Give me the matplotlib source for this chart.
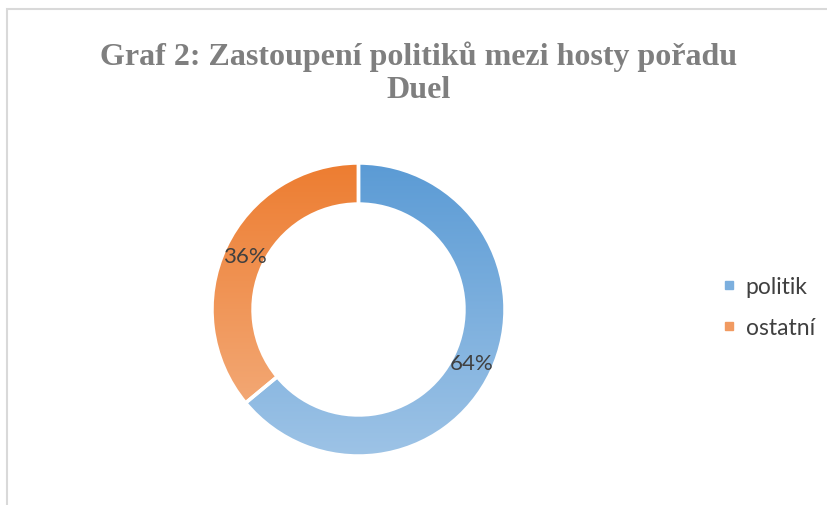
import numpy as np
import matplotlib
matplotlib.use("Agg")
import matplotlib.pyplot as plt
from matplotlib.lines import Line2D
from matplotlib.colors import LinearSegmentedColormap
from matplotlib.patches import Rectangle

title = "Graf 2: Zastoupení politiků mezi hosty pořadu\nDuel"
categories = ["politik", "ostatní"]
values = [64, 36]
top_colors = ["#5B9BD5", "#ED7D31"]
bottom_colors = ["#9DC3E6", "#F4B183"]

fig = plt.figure(figsize=(8.28, 5.06), dpi=100)
fig.patches.append(Rectangle((7/828, -0.01), 1.0, (506-10)/506 + 0.01, transform=fig.transFigure,
                             fill=False, edgecolor="#D9D9D9", linewidth=1.5))

fig.text(419/828, 1 - 73/506, title, ha="center", va="center", fontsize=23,
         family="Liberation Serif", fontweight="bold", color="#7F7F7F", linespacing=1.16)

ax = fig.add_axes([212/828, 49/506, 293/828, 293/506])
wedges, texts, autotexts = ax.pie(values, startangle=90, counterclock=False, radius=1.0,
                                  autopct="%d%%", pctdistance=0.855,
                                  wedgeprops=dict(width=0.28, edgecolor="white", linewidth=2.5),
                                  textprops=dict(fontsize=16, color="#404040", family="Lato"))
grad = np.linspace(0, 1, 256).reshape(-1, 1)
for w, tc, bc in zip(wedges, top_colors, bottom_colors):
    cmap = LinearSegmentedColormap.from_list("g", [tc, bc])
    w.set_facecolor("none")
    im = ax.imshow(grad, cmap=cmap, extent=(-1, 1, -1, 1), origin="upper", aspect="auto", zorder=0.5)
    im.set_clip_path(w)
for w in wedges:
    w.set_zorder(1)
for t in autotexts:
    t.set_zorder(3)
ax.set_xlim(-1, 1)
ax.set_ylim(-1, 1)
ax.set_aspect("equal")
ax.axis("off")

mid_colors = ["#7CAFDE", "#F19A61"]
handles = [Line2D([], [], marker="s", linestyle="none", markersize=6, markerfacecolor=c,
                  markeredgecolor=c) for c in mid_colors]
fig.legend(handles, categories, loc="center left", bbox_to_anchor=(702/828, 1 - 308/506),
           frameon=False, labelcolor="#404040", handlelength=0.6, handletextpad=0.4,
           labelspacing=0.85, prop=dict(family="Lato", size=16.5))

fig.savefig("out.png", dpi=100)
